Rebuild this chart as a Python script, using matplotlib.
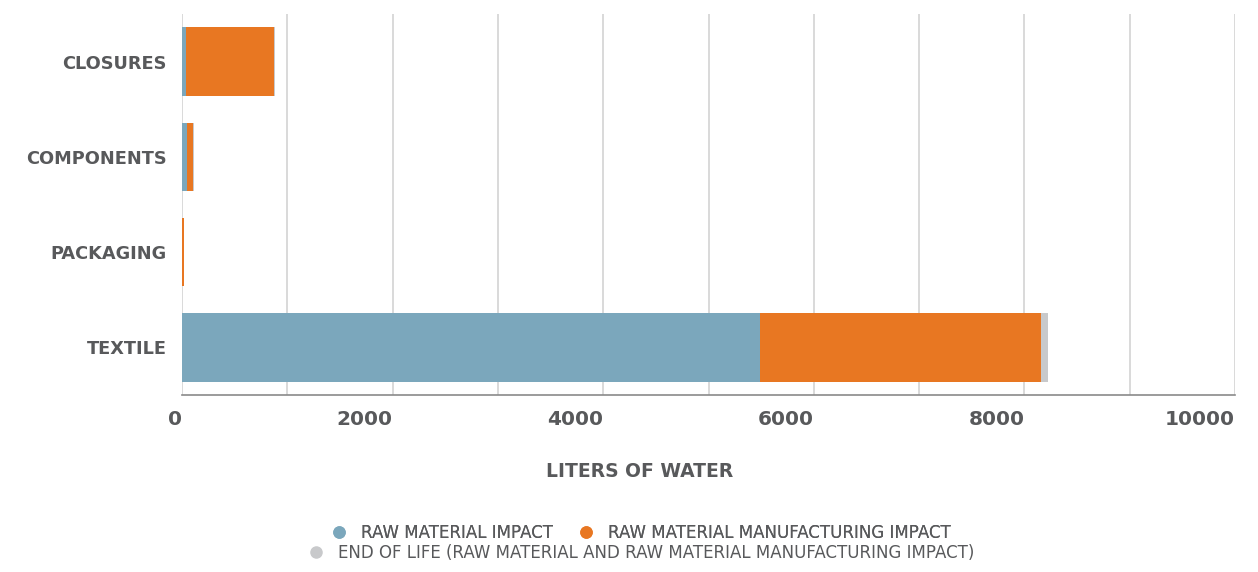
import matplotlib
matplotlib.use('agg')
import matplotlib.pyplot as plt
from matplotlib.lines import Line2D
from matplotlib.ticker import MultipleLocator

# Data (liters of water)
categories = ['TEXTILE', 'PACKAGING', 'COMPONENTS', 'CLOSURES']
raw_material = [5490, 3, 48, 38]
manufacturing = [2670, 13, 56, 837]
end_of_life = [63, 1, 6, 5]
series_labels = ['RAW MATERIAL IMPACT',
                 'RAW MATERIAL MANUFACTURING IMPACT',
                 'END OF LIFE (RAW MATERIAL AND RAW MATERIAL MANUFACTURING IMPACT)']
x_ticks = [0, 2000, 4000, 6000, 8000, 10000]

colors = ['#7BA7BC', '#E87722', '#C8C9CB']
text_color = '#58595B'

plt.rcParams['font.family'] = ['DejaVu Sans']

fig = plt.figure(figsize=(12.58, 5.72), dpi=100)
ax = fig.add_axes([0.1447, 0.3094, 0.8370, 0.6661])

y = range(len(categories))
left = [0] * len(categories)
for vals, col in zip([raw_material, manufacturing, end_of_life], colors):
    ax.barh(y, vals, left=left, height=0.72, color=col, zorder=3)
    left = [a + b for a, b in zip(left, vals)]

ax.set_xlim(0, 10000)
ax.set_ylim(-0.5, len(categories) - 0.5)
ax.set_yticks(list(y))
ax.set_yticklabels(categories, fontsize=12.8, fontweight='bold', color=text_color)
ax.set_xticks(x_ticks)
ax.set_xticklabels([str(t) for t in x_ticks], fontsize=14.5, fontweight='bold',
                   color=text_color, ha='right')
ax.xaxis.set_minor_locator(MultipleLocator(1000))
ax.tick_params(axis='both', which='both', length=0)
ax.tick_params(axis='x', pad=11)
ax.tick_params(axis='y', pad=11)
ax.grid(axis='x', which='both', color='#CFCFCF', linewidth=1.1, zorder=0)

for s in ['top', 'right', 'left']:
    ax.spines[s].set_visible(False)
ax.spines['bottom'].set_color('#8A8A8A')
ax.spines['bottom'].set_linewidth(1.2)

ax.set_xlabel('LITERS OF WATER', fontsize=13.5, fontweight='bold', color=text_color)
ax.xaxis.set_label_coords(0.4345, -0.175)

handles = [Line2D([], [], marker='o', linestyle='', markersize=8, color=c) for c in colors]
leg1 = fig.legend(handles[:2], series_labels[:2], loc='center', ncol=2,
                  bbox_to_anchor=(0.506, 0.068), frameon=False, fontsize=12,
                  labelcolor=text_color, handletextpad=0.3, columnspacing=1.0)
fig.add_artist(leg1)
fig.legend(handles[2:], series_labels[2:], loc='center',
           bbox_to_anchor=(0.506, 0.033), frameon=False, fontsize=12,
           labelcolor=text_color, handletextpad=0.3)

plt.savefig('out.png', dpi=100)
